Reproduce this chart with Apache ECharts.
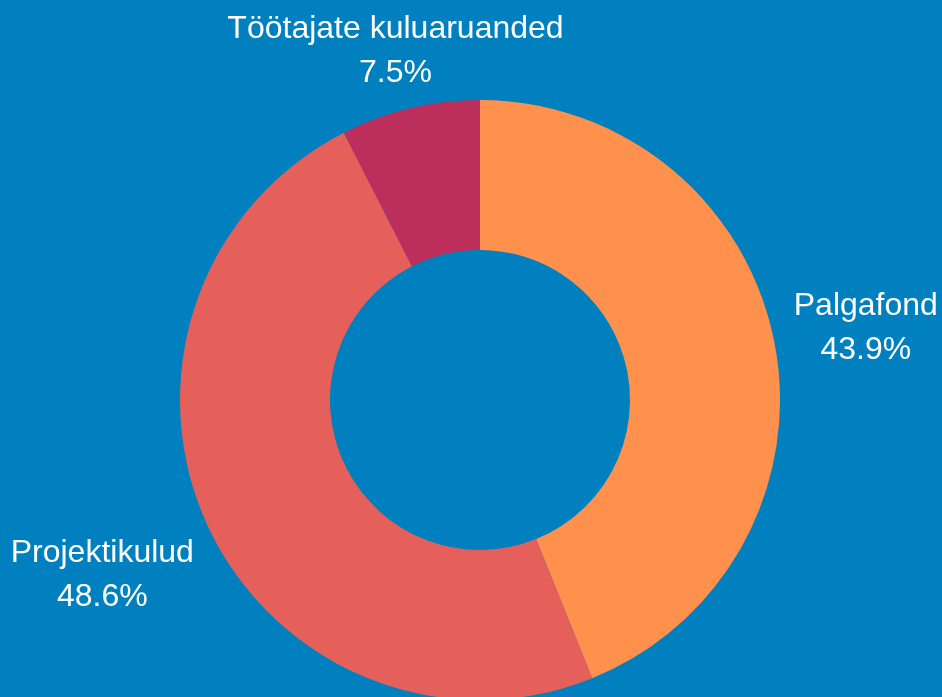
<!DOCTYPE html>
<html>
<head>
<meta charset="utf-8">
<script src="https://cdn.jsdelivr.net/npm/echarts@6/dist/echarts.min.js"></script>
<style>
  html, body { margin: 0; padding: 0; background: #0080BE; }
  #chartBox { width: 942px; height: 697px; }
</style>
</head>
<body>
<div id="chartBox"></div>
<script>
var myChart;

// data
const categories = ["Palgafond", "Projektikulud", "Töötajate kuluaruanded"];
const shares = [43.9, 48.6, 7.5];
const sliceColors = ["#FF914D", "#E5605A", "#BC2F5C"];
// label distance from the ring, per slice
const labelGaps = [93, 115, 62];

window.onload = function () {
  myChart = echarts.init(document.getElementById("chartBox"));
  setOptions();
};

function setOptions() {
  let data = categories.map((name, i) => ({
    name: name,
    value: shares[i],
    itemStyle: { color: sliceColors[i] },
    labelLine: { length: labelGaps[i], length2: 0 },
  }));

  let option = {
    backgroundColor: "#0080BE",
    animation: false,
    series: [
      {
        type: "pie",
        center: [480, 400],
        radius: [150, 300],
        startAngle: 90,
        clockwise: true,
        avoidLabelOverlap: false,
        data: data,
        label: {
          show: true,
          position: "outside",
          formatter: function (p) {
            return p.name + "\n" + p.value.toFixed(1) + "%";
          },
          color: "#fff",
          fontFamily: "Liberation Sans",
          fontSize: 32,
          lineHeight: 44,
          width: 400,
          overflow: "none",
          distanceToLabelLine: 0,
        },
        labelLine: { show: false },
        labelLayout: function () {
          // centre the two-line label on its anchor point
          return { align: "center", verticalAlign: "middle", dy: 3 };
        },
        emphasis: { disabled: true },
      },
    ],
  };
  myChart.setOption(option);
}
</script>
</body>
</html>
